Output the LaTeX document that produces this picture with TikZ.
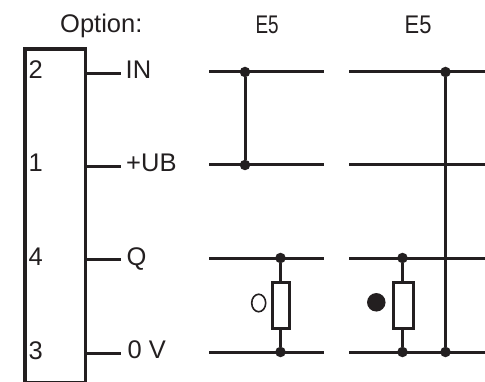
\documentclass[tikz,border=0pt]{standalone}
\usepackage{fontspec}
\usetikzlibrary{shapes.geometric}
\setmainfont{Liberation Sans}
\definecolor{ink}{HTML}{231F20}
\tikzset{
  wire/.style={draw=ink,line width=3pt},
  thick wire/.style={draw=ink,line width=3.2pt},
  lbl/.style={text=ink,font=\fontsize{25.5}{27}\selectfont,inner sep=0pt,anchor=base west},
  dotm/.style={circle,fill=ink,inner sep=0pt,minimum size=10.5pt},
  res/.style={rectangle,draw=ink,fill=white,line width=3pt,inner sep=0pt},
}
\begin{document}
\begin{tikzpicture}[x=1pt,y=-1pt]
\useasboundingbox (0,0) rectangle (485,382);
% connector block
\node[rectangle,draw=ink,line width=3.5pt,minimum width=60.5pt,minimum height=333pt,inner sep=0pt,anchor=north west] (blk) at (23.2,47.5) {};
% pin numbers
\node[lbl] (p2) at (28.5,78.5) {2};
\node[lbl] (p1) at (28.5,172) {1};
\node[lbl] (p4) at (28.5,266) {4};
\node[lbl] (p3) at (28.5,359.5) {3};
% stub ends
\coordinate (s2a) at (84,73.5); \coordinate (s2b) at (120.5,73.5);
\coordinate (s1a) at (84,166.5); \coordinate (s1b) at (120.5,166.5);
\coordinate (s4a) at (84,260); \coordinate (s4b) at (120.5,260);
\coordinate (s3a) at (84,353.5); \coordinate (s3b) at (120.5,353.5);
\draw[wire] (s2a)--(s2b); \draw[wire] (s1a)--(s1b); \draw[wire] (s4a)--(s4b); \draw[wire] (s3a)--(s3b);
% signal labels
\node[lbl] (tin) at (125.5,78.5) {IN};
\node[lbl] (tub) at (126,172) {+UB};
\node[lbl] (tq) at (126.5,266) {Q};
\node[lbl] (tv) at (127.5,359) {0 V};
\node[lbl] (topt) at (60,32.5) {Option:};
\node[lbl,xscale=.74,transform shape] (e1) at (255.5,34) {E5};
\node[lbl,xscale=.86,transform shape] (e2) at (404.5,34) {E5};
% horizontal lines
\foreach \n/\y in {a/72,b/165,c/258.5,d/352}{
  \coordinate (l\n1) at (209,\y); \coordinate (r\n1) at (323.5,\y);
  \coordinate (l\n2) at (349,\y); \coordinate (r\n2) at (485,\y);
  \draw[wire] (l\n1)--(r\n1); \draw[wire] (l\n2)--(r\n2);
}
% column 1
\node[dotm] (d1a) at (245,72) {};
\node[dotm] (d1b) at (245,165) {};
\draw[wire] (d1a)--(d1b);
\node[dotm] (d1c) at (280.5,258) {};
\node[dotm] (d1d) at (280.5,352) {};
\draw[wire] (d1c)--(d1d);
\node[res,minimum width=17pt,minimum height=46pt] (r1) at (280.7,306) {};
\node[ellipse,draw=ink,line width=1.6pt,minimum width=14pt,minimum height=17.5pt,inner sep=0pt] (o1) at (258.7,303) {};
% column 2
\node[dotm] (d2c) at (402.5,258) {};
\node[dotm] (d2d) at (402.5,352) {};
\draw[wire] (d2c)--(d2d);
\node[res,minimum width=20pt,minimum height=46pt] (r2) at (403,306) {};
\node[circle,fill=ink,minimum size=18.5pt,inner sep=0pt] (o2) at (376.3,302.3) {};
\node[dotm] (d2a) at (445.5,72) {};
\node[dotm] (d2e) at (445.5,352) {};
\draw[thick wire] (d2a)--(d2e);
\end{tikzpicture}
\end{document}
